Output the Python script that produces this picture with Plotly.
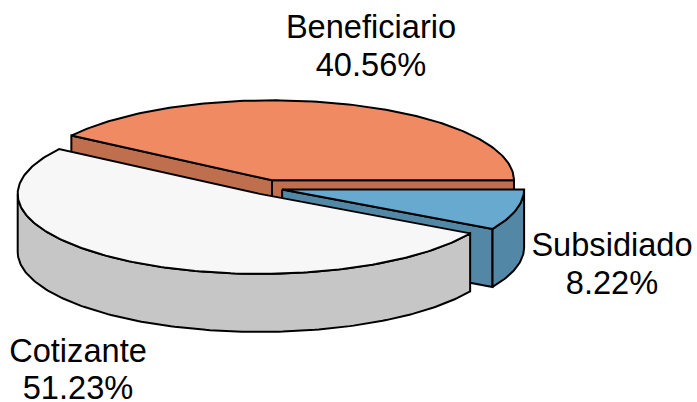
import numpy as np
import plotly.graph_objects as go

# pie data, anti-clockwise from 3 o'clock
labels = ["Beneficiario", "Cotizante", "Subsidiado"]
shares = [40.56, 51.23, 8.22]
top_colors = ["#EF8A62", "#F7F7F7", "#67A9CF"]
side_colors = ["#BF6E4E", "#C6C6C6", "#5287A6"]

# label placement, pixels
label_x = [371, 78, 612]
name_y = [30, 354, 248]
pct_y = [68, 391, 286]

# fake 3D pie geometry, pixels
CX, CY = 267.6, 187.5
RX, RY = 242, 80
DEPTH = 58
EXPLODE = 15
EXPLODE_Y = 0.5
DRAW_ORDER = [0, 2, 1]  # back to front, the big slice hides the others
FONT = "Liberation Sans, Arial, sans-serif"


def arc(ax, ay, t0, t1, drop=0):
    t = np.linspace(t0, t1, max(int(abs(t1 - t0) * 60), 2))
    return ax + RX * np.cos(t), ay - RY * np.sin(t) + drop


def add_face(fig, xs, ys, color, name):
    fig.add_trace(go.Scatter(
        x=xs, y=ys,
        mode="lines",
        fill="toself",
        fillcolor=color,
        line=dict(color="black", width=2),
        name=name,
        showlegend=False,
        hoverinfo="name",
    ))


fig = go.Figure()

total = sum(shares)
edges = np.cumsum([0] + shares) / total * 2 * np.pi

for i in DRAW_ORDER:
    name = labels[i]
    t0, t1 = edges[i], edges[i + 1]
    mid = (t0 + t1) / 2
    ax = CX + EXPLODE * np.cos(mid)
    ay = CY - EXPLODE * EXPLODE_Y * np.sin(mid)

    # radial walls that face the viewer
    for t, facing in ((t0, np.sin(t0 - np.pi / 2)), (t1, np.sin(t1 + np.pi / 2))):
        if facing < 1e-9:
            ex, ey = ax + RX * np.cos(t), ay - RY * np.sin(t)
            add_face(fig, [ax, ex, ex, ax, ax],
                     [ay, ey, ey + DEPTH, ay + DEPTH, ay], side_colors[i], name)

    # curved wall, only on the front half
    a0, a1 = max(t0, np.pi), min(t1, 2 * np.pi)
    if a1 > a0:
        tx, ty = arc(ax, ay, a0, a1)
        bx, by = arc(ax, ay, a1, a0, DEPTH)
        add_face(fig, np.r_[tx, bx, tx[0]], np.r_[ty, by, ty[0]], side_colors[i], name)

    # top
    tx, ty = arc(ax, ay, t0, t1)
    add_face(fig, np.r_[ax, tx, ax], np.r_[ay, ty, ay], top_colors[i], name)

fig.add_trace(go.Scatter(
    x=label_x + label_x,
    y=name_y + pct_y,
    mode="text",
    text=labels + [f"{v:.2f}%" for v in shares],
    textposition="middle center",
    textfont=dict(family=FONT, size=32.6, color="black"),
    showlegend=False,
    hoverinfo="skip",
))

fig.update_layout(
    width=697, height=402,
    margin=dict(l=0, r=0, t=0, b=0),
    paper_bgcolor="white",
    plot_bgcolor="white",
    showlegend=False,
    xaxis=dict(range=[0, 697], visible=False, fixedrange=True),
    yaxis=dict(range=[402, 0], visible=False, fixedrange=True),
)

# the page's default body margin would push the figure 8px off
fig.write_html(
    "out.html",
    config={"displayModeBar": False},
    post_script="document.body.style.margin='0';document.body.style.overflow='hidden';",
)
